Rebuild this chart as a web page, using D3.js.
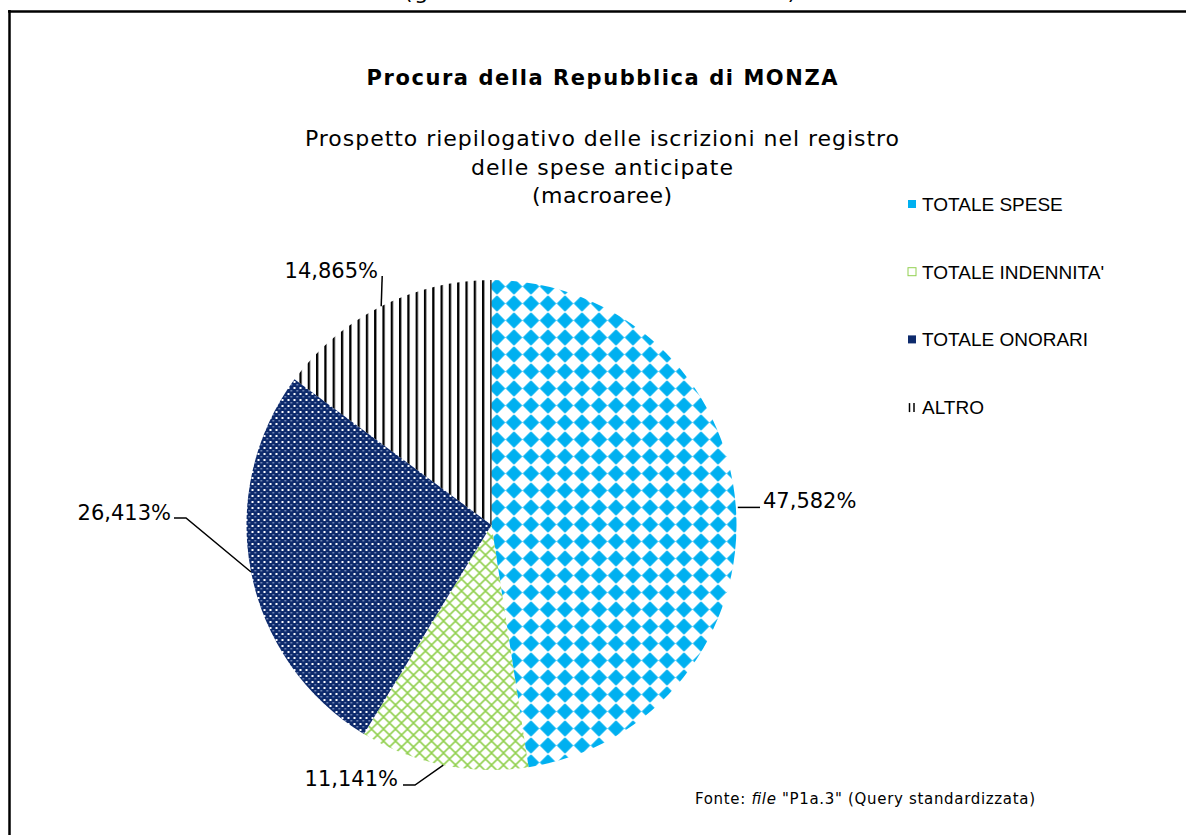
<!DOCTYPE html>
<html lang="it">
<head>
<meta charset="UTF-8">
<title>Procura della Repubblica di MONZA</title>
<script src="https://d3js.org/d3.v7.min.js"></script>
<style>
    body { margin: 0; background: #fff; }
    text { font-family: "DejaVu Sans", Verdana, sans-serif; fill: #000; }
    .legend text { font-family: "Liberation Sans", Arial, sans-serif; font-size: 19px; }
</style>
</head>
<body>
<svg></svg>
<script>
    // data
    var categories = ["TOTALE SPESE", "TOTALE INDENNITA'", "TOTALE ONORARI", "ALTRO"];
    var values = [47.582, 11.141, 26.413, 14.865];
    var labels = ["47,582%", "11,141%", "26,413%", "14,865%"];
    var subtitleLines = ["Prospetto riepilogativo delle iscrizioni nel registro",
                         "delle spese anticipate", "(macroaree)"];
    var subtitleWidths = [594, 262, 140];

    var width = 1186, height = 835;
    var cx = 491.5, cy = 525, radius = 245;

    var svg = d3.select("svg").attr("width", width).attr("height", height);
    var defs = svg.append("defs");

    // fill patterns, one per slice (in page space)
    var p1 = defs.append("pattern").attr("id", "pat0")
        .attr("patternUnits", "userSpaceOnUse").attr("width", 17).attr("height", 17)
        .attr("x", 490).attr("y", 280);
    p1.append("polygon").attr("points", "8.5,0.8 16.2,8.5 8.5,16.2 0.8,8.5")
        .attr("fill", "#00B0F0").attr("stroke", "#00B0F0").attr("stroke-width", 1)
        .attr("stroke-linejoin", "round");

    var p2 = defs.append("pattern").attr("id", "pat1")
        .attr("patternUnits", "userSpaceOnUse").attr("width", 12).attr("height", 12);
    p2.append("path").attr("d", "M0,0L12,12M12,0L0,12")
        .attr("stroke", "#92D050").attr("stroke-width", 1.6);

    var p3 = defs.append("pattern").attr("id", "pat2")
        .attr("patternUnits", "userSpaceOnUse").attr("width", 6).attr("height", 6);
    p3.append("rect").attr("width", 6).attr("height", 6).attr("fill", "#0d2a6c");
    p3.append("rect").attr("x", 0).attr("y", 0).attr("width", 2).attr("height", 2).attr("fill", "#fff");
    p3.append("rect").attr("x", 3).attr("y", 3).attr("width", 1.5).attr("height", 1.5).attr("fill", "#8fa0c8");

    var p4 = defs.append("pattern").attr("id", "pat3")
        .attr("patternUnits", "userSpaceOnUse").attr("width", 8.3).attr("height", 10)
        .attr("x", 488.5);
    p4.append("rect").attr("width", 2.3).attr("height", 10).attr("fill", "#000");

    // frame (only top and left edges are visible)
    svg.append("line").attr("x1", 8).attr("x2", width).attr("y1", 11.5).attr("y2", 11.5)
        .attr("stroke", "#000").attr("stroke-width", 2.5);
    svg.append("line").attr("x1", 9.5).attr("x2", 9.5).attr("y1", 10).attr("y2", height)
        .attr("stroke", "#000").attr("stroke-width", 2.5);

    // caption above the frame, cut by the page edge as in the original
    svg.append("text").attr("x", 600).attr("y", -1.5).attr("text-anchor", "middle")
        .style("font-size", "22px").attr("textLength", 392)
        .text("(grafico riassuntivo macroaree)");

    // titles
    svg.append("text").attr("x", 602).attr("y", 85).attr("text-anchor", "middle")
        .style("font-size", "21px").style("font-weight", "bold")
        .attr("textLength", 471).attr("lengthAdjust", "spacing")
        .text("Procura della Repubblica di MONZA");

    svg.append("g").selectAll("text").data(subtitleLines).enter().append("text")
        .attr("x", 602).attr("y", function (d, i) { return 146 + i * 28.5; })
        .attr("text-anchor", "middle").style("font-size", "22px")
        .attr("textLength", function (d, i) { return subtitleWidths[i]; })
        .attr("lengthAdjust", "spacing")
        .text(function (d) { return d; });

    // pie
    var pie = d3.pie().sort(null).value(function (d) { return d; });
    var arcs = pie(values);
    var arc = d3.arc().innerRadius(0).outerRadius(radius);
    var edge = d3.arc().innerRadius(radius).outerRadius(radius);

    svg.append("g").selectAll("path.slice").data(arcs).enter().append("path")
        .attr("class", "slice")
        .attr("transform", "translate(" + cx + "," + cy + ")")
        .attr("d", arc)
        .attr("fill", function (d, i) { return "url(#pat" + i + ")"; });

    // label placement (layout only): text position and leader elbow
    var labelLayout = [
        { tx: 763, ty: 508, anchor: "start", elbow: [760, 0] },
        { tx: 398, ty: 786, anchor: "end", elbow: [415, 785] },
        { tx: 171, ty: 520, anchor: "end", elbow: [186, 518] },
        { tx: 378, ty: 278, anchor: "end", elbow: null }
    ];

    arcs.forEach(function (d, i) {
        var c = edge.centroid(d);
        var px = cx + c[0], py = cy + c[1];
        var L = labelLayout[i];
        var pts;
        if (i === 0) pts = [[px + 2, py + 1], [L.elbow[0], py + 1]];
        else if (i === 3) pts = [[px, py], [px + 1, 276]];
        else pts = [[px, py], L.elbow, [L.elbow[0] - 12, L.elbow[1]]];
        svg.append("path").attr("d", d3.line()(pts))
            .attr("fill", "none").attr("stroke", "#000").attr("stroke-width", 1.5);
        svg.append("text").attr("x", L.tx).attr("y", L.ty).attr("text-anchor", L.anchor)
            .style("font-size", "21px").text(labels[i]);
    });

    // legend
    var legend = svg.append("g").attr("class", "legend");
    var items = legend.selectAll("g").data(categories).enter().append("g")
        .attr("transform", function (d, i) { return "translate(908," + (204 + i * 67.7) + ")"; });
    items.append("rect").attr("x", 0).attr("y", -4).attr("width", 8).attr("height", 8)
        .attr("fill", function (d, i) { return ["#00B0F0", "#fff", "#0d2a6c", "#fff"][i]; })
        .attr("stroke", function (d, i) { return i === 1 ? "#92D050" : "none"; });
    items.filter(function (d, i) { return i === 3; }).selectAll("line").data([1.5, 6]).enter()
        .append("line").attr("x1", function (d) { return d; }).attr("x2", function (d) { return d; })
        .attr("y1", -4).attr("y2", 5).attr("stroke", "#000").attr("stroke-width", 1.5);
    items.append("text").attr("x", 14).attr("y", 7).text(function (d) { return d; });

    // source note
    var note = svg.append("text").attr("x", 695).attr("y", 804).style("font-size", "15px")
        .attr("textLength", 340).attr("lengthAdjust", "spacing");
    note.append("tspan").text("Fonte: ");
    note.append("tspan").style("font-style", "italic").text("file");
    note.append("tspan").text(" \"P1a.3\" (Query standardizzata)");
</script>
</body>
</html>
